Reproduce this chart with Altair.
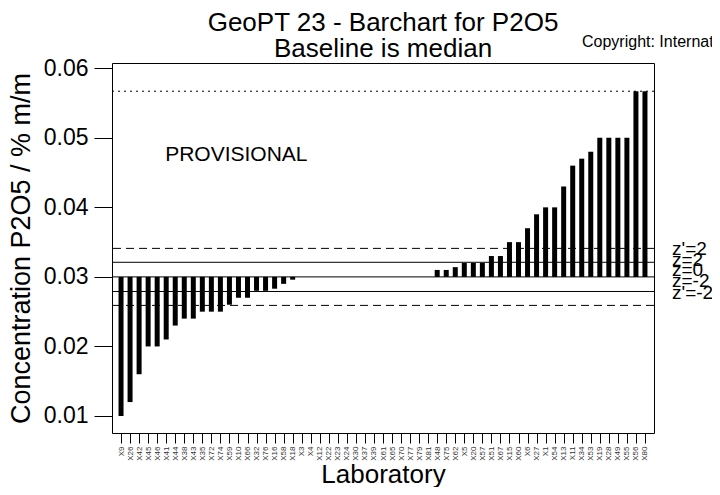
import altair as alt
import pandas as pd

labs = ["X9","X26","X42","X45","X46","X41","X44","X38","X43","X35","X72","X74","X59","X10",
        "X66","X32","X76","X16","X58","X18","X3","X4","X12","X22","X23","X24","X30","X37",
        "X39","X61","X65","X70","X77","X79","X81","X48","X75","X62","X5","X20","X57","X51",
        "X67","X15","X60","X6","X27","X1","X54","X13","X11","X34","X53","X19","X28","X49",
        "X55","X56","X80"]
vals = [0.010,0.012,0.016,0.020,0.020,0.021,0.023,0.024,0.024,0.025,0.025,0.025,0.026,0.027,
        0.027,0.028,0.028,0.0283,0.029,0.0296,0.030,0.030,0.030,0.030,0.030,0.030,0.030,0.030,
        0.030,0.030,0.030,0.030,0.030,0.030,0.030,0.031,0.031,0.0314,0.032,0.032,0.032,0.033,
        0.033,0.035,0.035,0.037,0.039,0.040,0.040,0.043,0.046,0.047,0.048,0.050,0.050,0.050,
        0.050,0.0567,0.0567]
median = 0.030
solid_lines = [0.0321, 0.030, 0.0279]
dashed_lines = [0.0341, 0.0259]
dotted_lines = [0.0567]
z_labels = ["z'=2", "z=2", "z=0", "z=-2", "z'=-2"]
z_label_pos = [0.0340, 0.03238, 0.0310, 0.02942, 0.02769]
y_ticks = [0.01, 0.02, 0.03, 0.04, 0.05, 0.06]
title_text = "GeoPT 23 - Barchart for P2O5"
subtitle_text = "Baseline is median"
copyright_text = "Copyright: International Association of Geoanalysts"

FONT = "Liberation Sans"
W, H = 542, 370

bars_df = pd.DataFrame({"lab": labs, "val": vals, "base": [median] * len(vals)})

xscale = alt.Scale(type="point", domain=labs, padding=1.485)
yscale = alt.Scale(domain=[0.00755, 0.06076], nice=False, zero=False)

bars = alt.Chart(bars_df).mark_bar(color="black", size=5).encode(
    x=alt.X("lab:N", scale=xscale, sort=labs,
            axis=alt.Axis(title="Laboratory", labelAngle=270, labelFontSize=8,
                          labelColor="#333333", labelFont=FONT, tickSize=10,
                          tickColor="black", domain=False, labelPadding=3,
                          titleFont=FONT, titleFontSize=26, titleFontWeight="normal",
                          titleColor="black", titlePadding=1, labelOverlap=False)),
    y=alt.Y("val:Q", scale=yscale,
            axis=alt.Axis(title="Concentration P2O5 / % m/m", values=y_ticks, format=".2f",
                          labelFontSize=23, labelFont=FONT, labelColor="black",
                          tickSize=18, tickColor="black", domain=False, grid=False,
                          labelPadding=6, titleFont=FONT, titleFontSize=27,
                          titleFontWeight="normal", titleColor="black", titlePadding=8)),
    y2="base:Q",
)

solid = alt.Chart(pd.DataFrame({"v": solid_lines})).mark_rule(
    color="black", strokeWidth=1).encode(y=alt.Y("v:Q", scale=yscale))
dashed = alt.Chart(pd.DataFrame({"v": dashed_lines})).mark_rule(
    color="black", strokeWidth=1, strokeDash=[8, 5]).encode(y=alt.Y("v:Q", scale=yscale))
dotted = alt.Chart(pd.DataFrame({"v": dotted_lines})).mark_rule(
    color="black", strokeWidth=1, strokeDash=[2, 4]).encode(y=alt.Y("v:Q", scale=yscale))

zlab = alt.Chart(pd.DataFrame({"t": z_labels, "p": z_label_pos})).mark_text(
    align="left", baseline="middle", font=FONT, fontSize=19, color="black").encode(
    x=alt.value(W + 18), y=alt.Y("p:Q", scale=yscale), text="t:N")

prov = alt.Chart(pd.DataFrame({"t": ["PROVISIONAL"], "lab": ["X46"], "p": [0.0475]})).mark_text(
    align="left", baseline="middle", font=FONT, fontSize=21, color="black", dx=8).encode(
    x=alt.X("lab:N", scale=xscale), y=alt.Y("p:Q", scale=yscale), text="t:N")

titles = alt.Chart(pd.DataFrame({"t": [title_text, subtitle_text], "yy": [-32, -6]})).mark_text(
    align="center", baseline="alphabetic", font=FONT, fontSize=26, color="black").encode(
    x=alt.value(W / 2), y=alt.Y("yy:Q", scale=None), text="t:N")

copy = alt.Chart(pd.DataFrame({"t": [copyright_text]})).mark_text(
    align="left", baseline="alphabetic", font=FONT, fontSize=16, color="black").encode(
    x=alt.value(470), y=alt.value(-16), text="t:N")

chart = alt.layer(bars, solid, dashed, dotted, zlab, prov, titles, copy).properties(
    width=W, height=H,
    autosize="none",
    background="white",
    padding={"left": 104, "top": 55, "right": 58, "bottom": 54},
).configure_view(stroke="black", strokeWidth=1)

chart.save("out.html", embed_options={"renderer": "svg", "actions": False})
